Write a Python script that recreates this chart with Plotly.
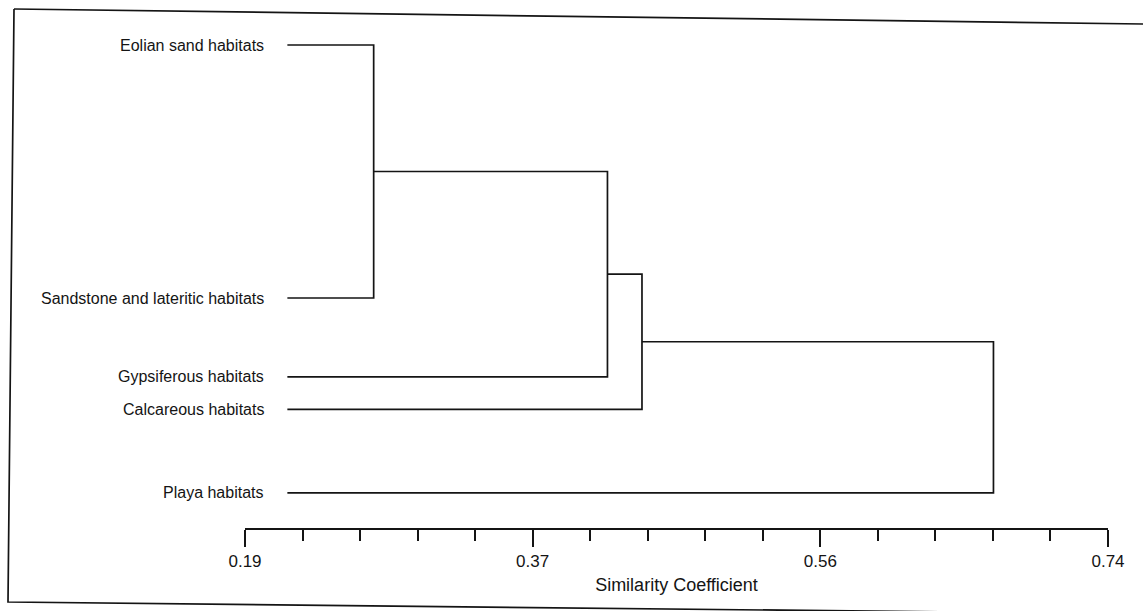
import plotly.graph_objects as go

# ---------------- data ----------------
leaf_labels = [
    "Eolian sand habitats",
    "Sandstone and lateritic habitats",
    "Gypsiferous habitats",
    "Calcareous habitats",
    "Playa habitats",
]
# vertical order/positions of leaves (row units)
leaf_pos = [0.0, 5.0, 6.56, 7.2, 8.85]
# x value where leaf branches start
leaf_base = 0.217
# linkage: (child_a, child_b, similarity level); new nodes numbered 5, 6, ...
merges = [
    (0, 1, 0.272),
    (5, 2, 0.421),
    (6, 3, 0.443),
    (7, 4, 0.667),
]
tick_vals_major = [0.19, 0.3733, 0.5567, 0.74]
tick_text_major = ["0.19", "0.37", "0.56", "0.74"]
axis_min, axis_max, n_intervals = 0.19, 0.74, 15
axis_title = "Similarity Coefficient"

# ---------------- layout geometry ----------------
W, H = 1143, 611
L, R, T, B = 245, 35, 20, 83
PW, PH = W - L - R, H - T - B
INK = "#141414"
FONT = "Liberation Sans, Arial, sans-serif"

# node positions
node_x = {i: leaf_base for i in range(len(leaf_labels))}
node_y = {i: leaf_pos[i] for i in range(len(leaf_labels))}

xs, ys = [], []
nid = len(leaf_labels)
for a, b, h in merges:
    xs += [node_x[a], h, h, node_x[b], None]
    ys += [node_y[a], node_y[a], node_y[b], node_y[b], None]
    node_x[nid] = h
    node_y[nid] = (node_y[a] + node_y[b]) / 2.0
    nid += 1

fig = go.Figure()
fig.add_trace(go.Scatter(
    x=xs, y=ys, mode="lines",
    line=dict(color=INK, width=1.7),
    hoverinfo="skip", showlegend=False, cliponaxis=False,
))

for lab, yv in zip(leaf_labels, leaf_pos):
    fig.add_annotation(
        x=leaf_base, y=yv, xref="x", yref="y", text=lab,
        showarrow=False, xanchor="right", yanchor="middle", xshift=-21,
        font=dict(family=FONT, size=16, color=INK),
    )

minor_vals = [axis_min + (axis_max - axis_min) * k / n_intervals for k in range(n_intervals + 1)]

# y range so that leaf rows land where they should
unit = 50.6
y_top_px, y_first_px = T, 45
y_lo = (y_top_px - y_first_px) / unit
y_hi = (T + PH - y_first_px) / unit


def px(xp, yp):
    return (xp - L) / PW, (T + PH - yp) / PH


corners = [(14, 9), (1143, 24), (1143, 614), (8, 602)]
pts = [px(*c) for c in corners]
fig.add_shape(type="path", xref="paper", yref="paper",
              path="M {:.5f},{:.5f} L {:.5f},{:.5f}".format(pts[0][0], pts[0][1], pts[1][0], pts[1][1]),
              line=dict(color=INK, width=1.7))
fig.add_shape(type="path", xref="paper", yref="paper",
              path="M {:.5f},{:.5f} L {:.5f},{:.5f} L {:.5f},{:.5f}".format(
                  pts[0][0], pts[0][1], pts[3][0], pts[3][1], pts[2][0], pts[2][1]),
              line=dict(color=INK, width=1.7))

fig.update_layout(
    width=W, height=H,
    margin=dict(l=L, r=R, t=T, b=B),
    paper_bgcolor="white", plot_bgcolor="white",
    font=dict(family=FONT, color=INK),
    showlegend=False,
    xaxis=dict(
        range=[axis_min, axis_max],
        showgrid=False, zeroline=False,
        showline=True, linecolor=INK, linewidth=1.6,
        ticks="outside", ticklen=17, tickwidth=1.6, tickcolor=INK,
        tickvals=tick_vals_major, ticktext=tick_text_major,
        tickfont=dict(family=FONT, size=17, color=INK),
        minor=dict(tickvals=minor_vals, ticks="outside", ticklen=11,
                   tickwidth=1.6, tickcolor=INK, showgrid=False),
        title=dict(text=axis_title, font=dict(family=FONT, size=18, color=INK), standoff=8),
        fixedrange=True,
    ),
    yaxis=dict(
        range=[y_hi, y_lo], visible=False, fixedrange=True,
    ),
)

fig.write_html("out.html", config={"displayModeBar": False},
               post_script="document.body.style.margin='0';document.body.style.overflow='hidden';")
